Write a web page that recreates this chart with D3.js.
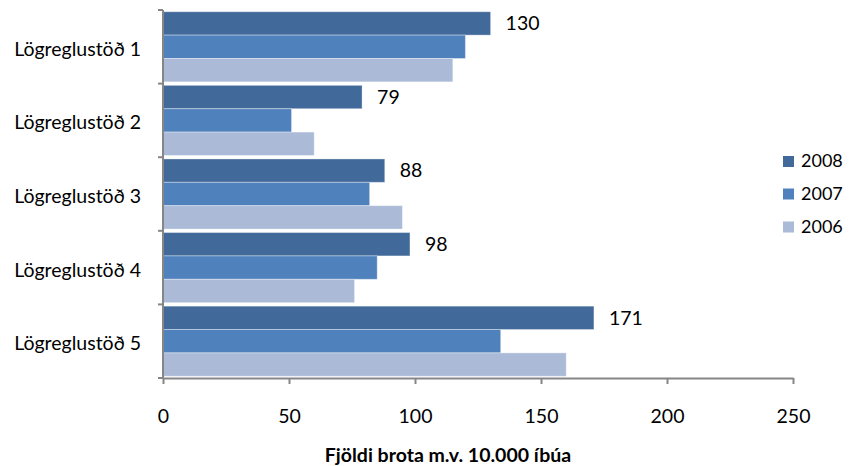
<!DOCTYPE html>
<html><head><meta charset="utf-8">
<script src="https://cdn.jsdelivr.net/npm/d3@7"></script>
<style>body{margin:0;background:#fff}svg{display:block}</style>
</head><body>
<script>
const categories = ["Lögreglustöð 1","Lögreglustöð 2","Lögreglustöð 3","Lögreglustöð 4","Lögreglustöð 5"];
const seriesNames = ["2008","2007","2006"];
const values2008 = [130, 79, 88, 98, 171];
const values2007 = [120, 51, 82, 85, 134];
const values2006 = [115, 60, 95, 76, 160];
const xTicks = [0, 50, 100, 150, 200, 250];
const colors = ["#41699A", "#4F81BD", "#AABAD7"];
const xTitle = "Fjöldi brota m.v. 10.000 íbúa";

const series = [values2008, values2007, values2006];
const W = 851, H = 466;
const svg = d3.select("body").append("svg").attr("width", W).attr("height", H);
const font = "Lato, 'Open Sans', sans-serif";

const x = d3.scaleLinear().domain([0, 250]).range([163, 793]);
const y = d3.scaleBand().domain(categories).range([10, 378]).paddingInner(0).paddingOuter(0);
const inner = d3.scaleBand().domain(seriesNames).range([0, y.bandwidth()]).paddingOuter(0.075).paddingInner(0);

// bars
categories.forEach((c, ci) => {
  seriesNames.forEach((s, si) => {
    svg.append("rect")
      .attr("x", x(0))
      .attr("y", y(c) + inner(s))
      .attr("width", x(series[si][ci]) - x(0))
      .attr("height", inner.bandwidth())
      .attr("fill", colors[si])
      .attr("stroke", "rgba(255,255,255,0.35)")
      .attr("stroke-width", 1);
  });
  svg.append("text")
    .attr("x", x(values2008[ci]) + 15)
    .attr("y", y(c) + inner("2008") + inner.bandwidth() / 2)
    .attr("dy", "0.35em")
    .attr("font-family", font).attr("font-size", 19.5).attr("fill", "#000")
    .text(values2008[ci]);
});

// y axis
const yG = svg.append("g").attr("transform", `translate(${x(0)},0)`);
yG.append("line").attr("x1", 0).attr("x2", 0).attr("y1", 10).attr("y2", 378)
  .attr("stroke", "#868686").attr("stroke-width", 2);
const boundaries = categories.map(c => y(c)).concat([y.range()[1]]);
yG.selectAll("line.tk").data(boundaries).join("line").attr("class", "tk")
  .attr("x1", -5).attr("x2", 0).attr("y1", d => d).attr("y2", d => d)
  .attr("stroke", "#868686").attr("stroke-width", 2);
svg.selectAll("text.cat").data(categories).join("text").attr("class", "cat")
  .attr("x", 141).attr("y", d => y(d) + y.bandwidth() / 2 + 9)
  .attr("text-anchor", "end")
  .attr("font-family", font).attr("font-size", 19.5).attr("fill", "#000")
  .text(d => d);

// x axis
const xAxis = d3.axisBottom(x).tickValues(xTicks).tickSize(6).tickSizeOuter(0);
const xG = svg.append("g").attr("transform", `translate(0,378)`).call(xAxis);
xG.select(".domain").attr("stroke", "#868686").attr("stroke-width", 2);
xG.selectAll(".tick line").attr("stroke", "#868686").attr("stroke-width", 2);
xG.selectAll(".tick text").attr("y", 45).attr("dy", 0)
  .attr("font-family", font).attr("font-size", 19.5).attr("fill", "#000");

svg.append("text").attr("x", 448).attr("y", 462).attr("text-anchor", "middle")
  .attr("font-family", font).attr("font-size", 19.5).attr("font-weight", "bold").attr("fill", "#000")
  .text(xTitle);

// legend
const legY = [161.5, 194, 227];
seriesNames.forEach((s, i) => {
  svg.append("rect").attr("x", 783).attr("y", legY[i] - 5.5).attr("width", 11).attr("height", 11).attr("fill", colors[i]);
  svg.append("text").attr("x", 801).attr("y", legY[i] + 5.5)
    .attr("font-family", font).attr("font-size", 18).attr("fill", "#000").text(s);
});
</script>
</body></html>
